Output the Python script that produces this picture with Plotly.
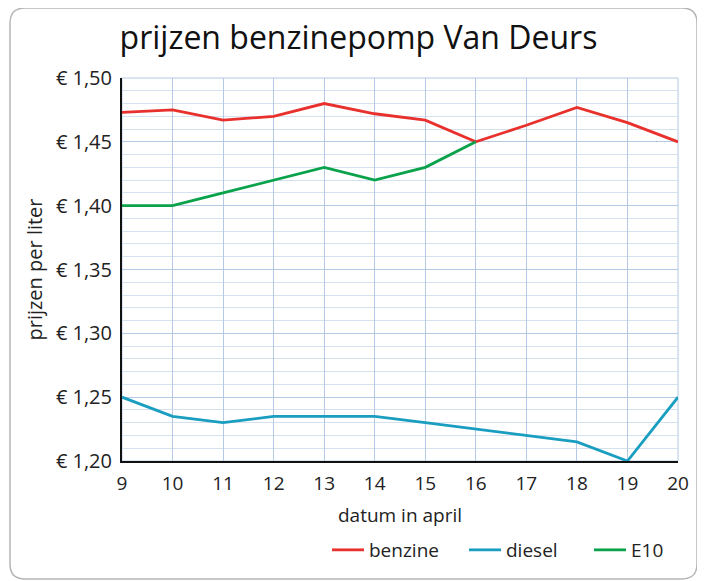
import plotly.graph_objects as go

dates = ["9", "10", "11", "12", "13", "14", "15", "16", "17", "18", "19", "20"]
benzine = [1.473, 1.475, 1.467, 1.470, 1.480, 1.472, 1.467, 1.450, 1.463, 1.477, 1.465, 1.450]
diesel = [1.250, 1.235, 1.230, 1.235, 1.235, 1.235, 1.230, 1.225, 1.220, 1.215, 1.200, 1.250]
e10_dates = ["9", "10", "11", "12", "13", "14", "15", "16"]
e10 = [1.400, 1.400, 1.410, 1.420, 1.430, 1.420, 1.430, 1.450]
y_ticks = [1.20, 1.25, 1.30, 1.35, 1.40, 1.45, 1.50]
y_ticktext = ["€ 1,20", "€ 1,25", "€ 1,30", "€ 1,35", "€ 1,40", "€ 1,45", "€ 1,50"]

FONT = "'Open Sans', Lato, sans-serif"

L, T, RIGHT, BOTTOM = 114, 70, 670, 453
W, H = 705, 581
R, B = W - RIGHT, H - BOTTOM
pw, ph = W - L - R, H - T - B

def px(x):
    return (x - L) / pw

def py(y):
    return (H - B - y) / ph

fig = go.Figure()
fig.add_trace(go.Scatter(x=dates, y=benzine, mode="lines", name="benzine",
                         line=dict(color="#e8302c", width=2.8), legend="legend"))
fig.add_trace(go.Scatter(x=dates, y=diesel, mode="lines", name="diesel",
                         line=dict(color="#1a9ec0", width=2.8), legend="legend2"))
fig.add_trace(go.Scatter(x=e10_dates, y=e10, mode="lines", name="E10",
                         line=dict(color="#0aa24a", width=2.8), legend="legend3"))

x0, x1, y0, y1 = 2, 689, 0, 571
r = 15
rx, ry = r / pw, r / ph
X0, X1, Y0, Y1 = px(x0), px(x1), py(y1), py(y0)
path = (f"M {X0+rx},{Y1} L {X1-rx},{Y1} Q {X1},{Y1} {X1},{Y1-ry} "
        f"L {X1},{Y0+ry} Q {X1},{Y0} {X1-rx},{Y0} L {X0+rx},{Y0} "
        f"Q {X0},{Y0} {X0},{Y0+ry} L {X0},{Y1-ry} Q {X0},{Y1} {X0+rx},{Y1} Z")

leg_common = dict(orientation="h", yanchor="middle", xanchor="left",
                  font=dict(size=19, family=FONT, color="#222"), itemwidth=32,
                  bgcolor="rgba(0,0,0,0)")
ly = py(542)
fig.update_layout(
    width=W, height=H,
    margin=dict(l=L, r=R, t=T, b=B, autoexpand=False),
    paper_bgcolor="white", plot_bgcolor="white",
    font=dict(family=FONT, color="#222", size=19),
    title=dict(text="prijzen benzinepomp Van Deurs", x=350.5 / W, xanchor="center",
               y=1 - 30 / H, yanchor="middle", font=dict(size=32, color="#111", family=FONT)),
    showlegend=True,
    legend=dict(x=px(319), y=ly, **leg_common),
    legend2=dict(x=px(456), y=ly, **leg_common),
    legend3=dict(x=px(581), y=ly, **leg_common),
    shapes=[dict(type="path", xref="paper", yref="paper", path=path,
                 line=dict(color="#b5b5b5", width=1.5), layer="below")],
)
fig.update_xaxes(
    type="category", range=[0, 11], showgrid=True, gridcolor="#b4c9e4", gridwidth=1,
    showline=True, linecolor="#111", linewidth=2, ticks="", tickfont=dict(size=19),
    ticklabelstandoff=4,
    title=dict(text="datum in april", font=dict(size=19), standoff=14), zeroline=False,
)
fig.update_yaxes(
    range=[1.20, 1.50], tickvals=y_ticks, ticktext=y_ticktext, showgrid=True,
    gridcolor="#b4c9e4", gridwidth=1.3, showline=True, linecolor="#111", linewidth=2,
    ticks="", tickfont=dict(size=20), zeroline=False, ticklabelstandoff=4,
    minor=dict(dtick=0.01, showgrid=True, gridcolor="#d6e1f0", gridwidth=1),
    title=dict(text="prijzen per liter", font=dict(size=20), standoff=8),
)
fig.add_shape(type="rect", xref="paper", yref="paper", x0=0, x1=1, y0=0, y1=1,
              line=dict(color="#b4c9e4", width=1), layer="below")

fig.write_html("out.html")
